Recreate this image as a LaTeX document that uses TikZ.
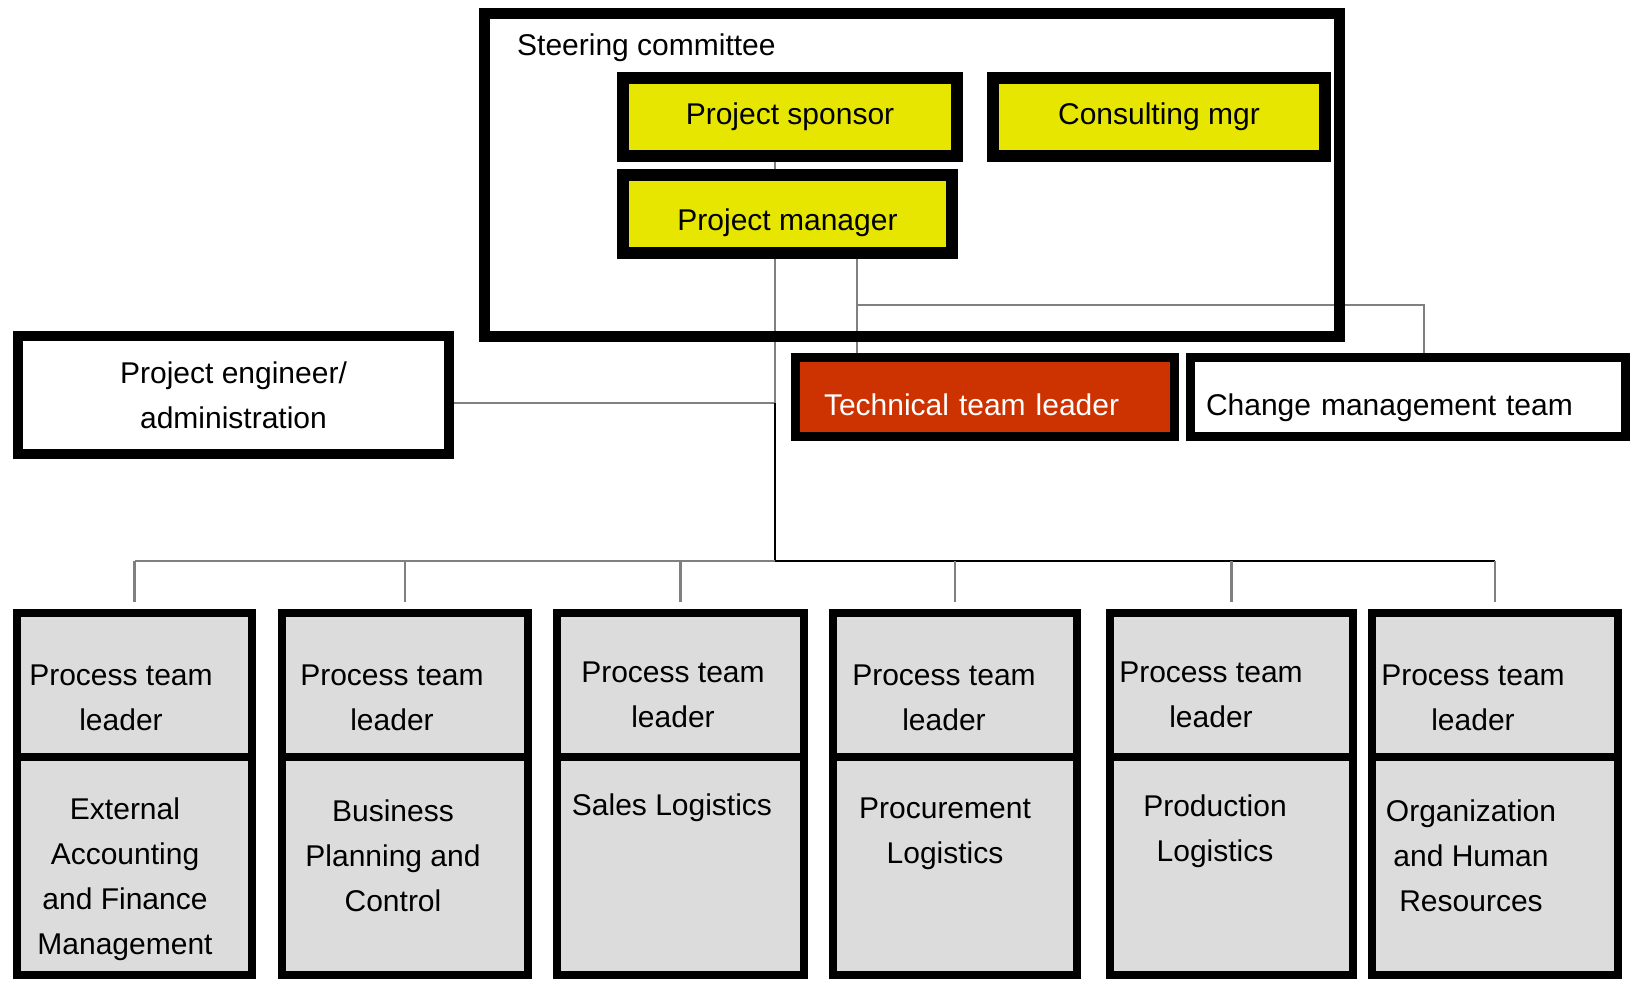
\documentclass[tikz,border=0pt]{standalone}
\usepackage{fontspec}
\setmainfont{Liberation Sans}
\usepackage{xcolor}
\usepackage{tikz}
\usetikzlibrary{backgrounds}
\definecolor{SCYellow}{RGB}{230,230,0}
\definecolor{TeamRed}{RGB}{204,51,0}
\definecolor{BoxGray}{RGB}{220,220,220}
\definecolor{LineGray}{RGB}{128,128,128}
\tikzset{
	box/.style={draw=black, rectangle, anchor=north west, inner sep=0pt},
	yellowbox/.style={box, fill=SCYellow, line width=12pt, minimum height=78pt},
	staffbox/.style={box, line width=9pt, minimum height=79pt, align=left, text height=36pt, text depth=0pt},
	teambox/.style={box, fill=BoxGray, line width=8pt},
	ptext/.style={align=center, inner sep=0pt},
	conn/.style={draw=LineGray, line width=2.5pt},
}

\begin{document}
\begin{tikzpicture}[x=1pt, y=-1pt, font=\fontsize{30}{45}\selectfont]
\useasboundingbox (0,0) rectangle (1630,982);

% steering committee
\node[box, line width=11pt, minimum width=855pt, minimum height=323pt] (steer) at (479,8) {};
\node[anchor=west, inner sep=0pt] (steertitle) at (517,48) {Steering committee};
\node[yellowbox, minimum width=334pt] (sponsor) at (617,72) {Project sponsor};
\node[yellowbox, minimum width=332pt] (consult) at (987,72) {Consulting mgr};
\node[yellowbox, minimum width=329pt, text height=32pt, text depth=0pt] (pm) at (617,169) {Project manager};

% staff and leads
\node[box, line width=10pt, fill=white, align=center, minimum width=431pt, minimum height=118pt] (eng) at (13,331) {Project engineer/\\administration};
\node[staffbox, fill=TeamRed, text=white, inner xsep=28.5pt, text width=322pt] (tech) at (791,353) {Technical team leader};
\node[staffbox, fill=white, inner xsep=15.5pt, text width=404pt] (change) at (1186,353) {Change management team};

% process teams
\node[teambox, minimum width=235pt, minimum height=144pt] (pt1) at (13,609) {};
\node[teambox, minimum width=235pt, minimum height=218pt] (area1) at (13,753) {};
\node[teambox, minimum width=246pt, minimum height=144pt] (pt2) at (278,609) {};
\node[teambox, minimum width=246pt, minimum height=218pt] (area2) at (278,753) {};
\node[teambox, minimum width=247pt, minimum height=144pt] (pt3) at (553,609) {};
\node[teambox, minimum width=247pt, minimum height=218pt] (area3) at (553,753) {};
\node[teambox, minimum width=244pt, minimum height=144pt] (pt4) at (829,609) {};
\node[teambox, minimum width=244pt, minimum height=218pt] (area4) at (829,753) {};
\node[teambox, minimum width=243pt, minimum height=144pt] (pt5) at (1106,609) {};
\node[teambox, minimum width=243pt, minimum height=218pt] (area5) at (1106,753) {};
\node[teambox, minimum width=246pt, minimum height=144pt] (pt6) at (1368,609) {};
\node[teambox, minimum width=246pt, minimum height=218pt] (area6) at (1368,753) {};

\node[ptext] (pt1t) at (121,698) {Process team\\leader};
\node[ptext] (pt2t) at (392,698) {Process team\\leader};
\node[ptext] (pt3t) at (673,695) {Process team\\leader};
\node[ptext] (pt4t) at (944,698) {Process team\\leader};
\node[ptext] (pt5t) at (1211,695) {Process team\\leader};
\node[ptext] (pt6t) at (1473,698) {Process team\\leader};

\node[ptext] (area1t) at (125,879) {External\\Accounting\\and Finance\\Management};
\node[ptext] (area2t) at (393,856) {Business\\Planning and\\Control};
\node[ptext] (area3t) at (672,808) {Sales Logistics};
\node[ptext] (area4t) at (945,834) {Procurement\\Logistics};
\node[ptext] (area5t) at (1215,831) {Production\\Logistics};
\node[ptext] (area6t) at (1471,856) {Organization\\and Human\\Resources};

% connectors
\coordinate (trunk) at (775,403);
\coordinate (bus) at (775,561);
\coordinate (split) at (857,305);
\coordinate (cm) at (1424,305);
\begin{scope}[on background layer]
\draw[conn] (sponsor.south -| trunk) -- (pm.north -| trunk);
\draw[conn] (pm.south -| trunk) -- (trunk);
\draw[conn] (eng.east |- trunk) -- (trunk);
\draw[conn, draw=black] (trunk) -- (bus);
\draw[conn] (pm.south -| split) -- (tech.north -| split);
\draw[conn] (split) -- (cm) -- (change.north -| cm);
\draw[conn] (bus -| pt1.north) -- (bus);
\draw[conn, draw=black] (bus) -- (bus -| pt6.north);
\draw[conn, shorten >=7pt] (bus -| pt1.north) -- (pt1.north);
\draw[conn, shorten >=7pt] (bus -| pt2.north) -- (pt2.north);
\draw[conn, shorten >=7pt] (bus -| pt3.north) -- (pt3.north);
\draw[conn, shorten >=7pt] (bus -| pt4.north) -- (pt4.north);
\draw[conn, shorten >=7pt] (bus -| pt5.north) -- (pt5.north);
\draw[conn, shorten >=7pt] (bus -| pt6.north) -- (pt6.north);
\end{scope}

\end{tikzpicture}
\end{document}
